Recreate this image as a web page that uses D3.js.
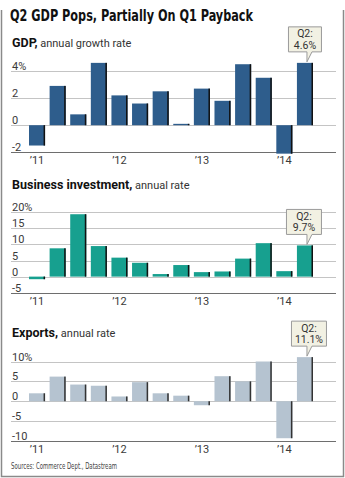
<!DOCTYPE html>
<html>
<head>
<meta charset="utf-8">
<script src="https://cdn.jsdelivr.net/npm/d3@7"></script>
<style>
  body { margin: 0; background: #fff; }
  svg text { font-family: Roboto, "Noto Sans", sans-serif; }
</style>
</head>
<body>
<div id="vis"></div>
<script>
// quarters Q1 2011 .. Q2 2014
const quarters = ["2011Q1", "2011Q2", "2011Q3", "2011Q4",
    "2012Q1", "2012Q2", "2012Q3", "2012Q4",
    "2013Q1", "2013Q2", "2013Q3", "2013Q4",
    "2014Q1", "2014Q2"];
const yearTicks = ["2011Q1", "2012Q1", "2013Q1", "2014Q1"];
const yearLabels = ["\u201911", "\u201912", "\u201913", "\u201914"];

const gdpValues = [-1.5, 2.9, 0.8, 4.6, 2.2, 1.6, 2.5, 0.1, 2.7, 1.8, 4.5, 3.5, -2.1, 4.6];
const investValues = [-0.8, 8.8, 19.4, 9.5, 5.9, 4.3, 0.8, 3.6, 1.4, 1.6, 5.6, 10.4, 1.7, 9.7];
const exportValues = [2.0, 6.2, 4.2, 3.9, 1.2, 4.8, 2.0, 1.4, -1.0, 6.3, 5.0, 10.0, -9.3, 11.1];

const gdpTicks = [-2, 0, 2, 4];
const investTicks = [-5, 0, 5, 10, 15, 20];
const exportTicks = [-10, -5, 0, 5, 10];

const width = 345, height = 478;

const svg = d3.select("#vis")
    .append("svg")
    .attr("width", width)
    .attr("height", height);

svg.append("rect")
    .attr("width", width)
    .attr("height", height)
    .attr("fill", "#fff");

// frame (open at the top)
svg.append("path")
    .attr("d", "M1.5,10V476.5H343.5V10")
    .attr("fill", "none")
    .attr("stroke", "#8a8a8a")
    .attr("stroke-width", 1.5);

svg.append("text")
    .attr("x", 10)
    .attr("y", 21)
    .attr("textLength", 243)
    .attr("lengthAdjust", "spacingAndGlyphs")
    .style("font-family", "'Liberation Sans Narrow', 'DejaVu Sans Condensed', sans-serif")
    .style("font-weight", "bold")
    .style("font-size", "16px")
    .attr("fill", "#111")
    .text("Q2 GDP Pops, Partially On Q1 Payback");

const x = d3.scaleBand()
    .domain(quarters)
    .range([29, 313])
    .paddingInner(0.22)
    .paddingOuter(0);

function drawPanel(cfg) {
    const g = svg.append("g");
    const y = d3.scaleLinear()
        .domain(d3.extent(cfg.ticks))
        .range([cfg.bottom, cfg.top]);

    // title
    const t = g.append("text")
        .attr("x", 12)
        .attr("y", cfg.titleY)
        .attr("fill", "#111");
    t.append("tspan")
        .style("font-weight", "bold")
        .style("font-size", "12.5px")
        .text(cfg.title);
    t.append("tspan")
        .style("font-size", "11px")
        .attr("fill", "#333")
        .text(" " + cfg.sub);

    // grid
    g.selectAll(".grid")
        .data(cfg.ticks)
        .enter()
        .append("line")
        .attr("x1", 11)
        .attr("x2", 336)
        .attr("y1", d => Math.round(y(d)) + 0.5)
        .attr("y2", d => Math.round(y(d)) + 0.5)
        .attr("stroke", (d, i) => i === 0 ? "#6e6e6e" : "#c4c4c4")
        .attr("stroke-width", 1);

    g.selectAll(".tlabel")
        .data(cfg.ticks)
        .enter()
        .append("text")
        .attr("x", 12)
        .attr("y", d => Math.round(y(d)) - 1)
        .style("font-size", "11px")
        .attr("fill", "#3a3a3a")
        .text((d, i) => i === cfg.ticks.length - 1 ? d + "%" : d);

    // bars
    const bars = g.selectAll(".bar")
        .data(cfg.values)
        .enter()
        .append("g");

    bars.append("rect")
        .attr("x", (d, i) => x(quarters[i]))
        .attr("width", x.bandwidth())
        .attr("y", d => y(Math.max(0, d)))
        .attr("height", d => Math.abs(y(d) - y(0)))
        .attr("fill", cfg.color);

    bars.append("rect")
        .attr("x", (d, i) => x(quarters[i]) + x.bandwidth() - 1.5)
        .attr("width", 1.5)
        .attr("y", d => y(Math.max(0, d)))
        .attr("height", d => Math.abs(y(d) - y(0)))
        .attr("fill", cfg.edge);

    // year labels
    g.selectAll(".year")
        .data(yearTicks)
        .enter()
        .append("text")
        .attr("x", d => x(d) + x.bandwidth() / 2)
        .attr("y", cfg.bottom + 12)
        .attr("text-anchor", "middle")
        .style("font-size", "11px")
        .attr("fill", "#3a3a3a")
        .text((d, i) => yearLabels[i]);

    // callout on last bar
    const last = cfg.values.length - 1;
    const bx = x(quarters[last]) + x.bandwidth() / 2;
    const topY = y(cfg.values[last]);
    const cx = bx + cfg.shift;
    const bw = cfg.boxW, bh = 25;
    const by1 = topY - 11;
    const by0 = by1 - bh;
    const l = cx - bw / 2, r = cx + bw / 2;
    const tail = "M" + l + "," + by0 + "H" + r + "V" + by1 +
        "H" + (bx + 7) + "L" + (bx + 2) + "," + (topY - 1) +
        "L" + (bx + 2) + "," + by1 + "H" + l + "Z";
    g.append("path")
        .attr("d", tail)
        .attr("fill", "#f2f1e3")
        .attr("stroke", "#9a9a9a")
        .attr("stroke-width", 1);
    g.append("text")
        .attr("x", cx)
        .attr("y", by0 + 10.5)
        .attr("text-anchor", "middle")
        .style("font-size", "10.5px")
        .attr("fill", "#333")
        .text("Q2:");
    g.append("text")
        .attr("x", cx)
        .attr("y", by0 + 22)
        .attr("text-anchor", "middle")
        .style("font-size", "10.5px")
        .attr("fill", "#333")
        .text(cfg.values[last] + "%");
}

drawPanel({
    title: "GDP,", sub: "annual growth rate", titleY: 47,
    values: gdpValues, ticks: gdpTicks,
    top: 71, bottom: 152.3,
    color: "#2e5d8c", edge: "#111",
    shift: 0, boxW: 33
});

drawPanel({
    title: "Business investment,", sub: "annual rate", titleY: 189,
    values: investValues, ticks: investTicks,
    top: 212.3, bottom: 292.7,
    color: "#17a08f", edge: "#111",
    shift: -1, boxW: 35
});

drawPanel({
    title: "Exports,", sub: "annual rate", titleY: 337,
    values: exportValues, ticks: exportTicks,
    top: 361.5, bottom: 441,
    color: "#b5c3d0", edge: "#333",
    shift: 4, boxW: 35
});

svg.append("text")
    .attr("x", 11)
    .attr("y", 469)
    .attr("textLength", 106)
    .attr("lengthAdjust", "spacingAndGlyphs")
    .style("font-family", "'Liberation Sans Narrow', 'DejaVu Sans Condensed', sans-serif")
    .style("font-size", "8.5px")
    .attr("fill", "#444")
    .text("Sources: Commerce Dept., Datastream");
</script>
</body>
</html>
